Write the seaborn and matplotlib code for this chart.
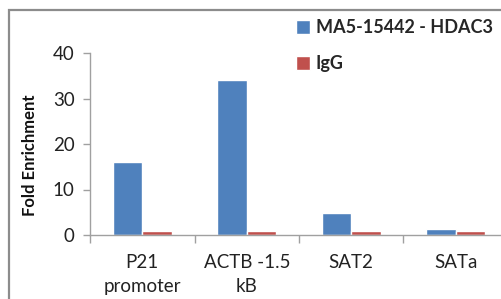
import matplotlib
matplotlib.use("Agg")
import matplotlib.pyplot as plt
import seaborn as sns
import pandas as pd
from matplotlib.patches import Rectangle

categories = ["P21\npromoter", "ACTB -1.5\nkB", "SAT2", "SATa"]
series_names = ["MA5-15442 - HDAC3", "IgG"]
hdac3_values = [16.1, 34.1, 4.8, 1.25]
igg_values = [0.9, 0.9, 0.9, 0.9]
y_ticks = [0, 10, 20, 30, 40]

df = pd.DataFrame({
    "Region": categories * 2,
    "Series": [series_names[0]] * 4 + [series_names[1]] * 4,
    "Fold Enrichment": hdac3_values + igg_values,
})

sns.set_theme(style="white")
plt.rcParams["font.family"] = ["Lato", "DejaVu Sans"]

W, H = 502, 299
fig = plt.figure(figsize=(W / 100, H / 100), dpi=100)
fig.patch.set_facecolor("white")

# outer chart-area frame (cropped on right and bottom)
fig.add_artist(Rectangle((9 / W, -0.1), 1.2, (H - 10) / H + 0.1,
                         transform=fig.transFigure, fill=False,
                         edgecolor="#8c8c8c", linewidth=1.6))

ax = fig.add_axes([90 / W, 64 / H, 418 / W, 182 / H])
sns.barplot(data=df, x="Region", y="Fold Enrichment", hue="Series",
            palette=["#4F81BD", "#C0504D"], width=0.565, gap=0,
            saturation=1, ax=ax, legend=True)

ax.set_xlim(-0.5, 3.5)
ax.set_ylim(0, 40)
ax.set_yticks(y_ticks)
ax.set_yticklabels([str(t) for t in y_ticks], fontsize=13.5, color="#222222")

# category boundary ticks (major) and centered labels (minor)
ax.set_xticks([-0.5, 0.5, 1.5, 2.5, 3.5])
ax.set_xticklabels([])
ax.set_xticks(range(len(categories)), minor=True)
ax.set_xticklabels(categories, minor=True, fontsize=13.5, color="#222222",
                   linespacing=1.45)
ax.tick_params(axis="x", which="major", length=6, width=1, color="#a0a0a0",
               direction="out", bottom=True)
ax.tick_params(axis="x", which="minor", length=0, pad=14)
ax.tick_params(axis="y", length=5, width=1, color="#a0a0a0", direction="out",
               left=True, pad=6)

for s in ["top", "right"]:
    ax.spines[s].set_visible(False)
for s in ["left", "bottom"]:
    ax.spines[s].set_color("#a0a0a0")
    ax.spines[s].set_linewidth(1)

ax.set_xlabel("")
ax.set_ylabel("Fold Enrichment", fontsize=12, fontweight="bold",
              color="#111111")
ax.yaxis.set_label_coords(38 / W, 144 / H, transform=fig.transFigure)

handles, labels = ax.get_legend_handles_labels()
ax.legend(handles, labels, loc="upper left",
          bbox_to_anchor=(296 / W, 1 - 19 / H), bbox_transform=fig.transFigure,
          frameon=False, borderpad=0, borderaxespad=0,
          prop={"size": 13, "weight": "bold"},
          handlelength=0.8, handleheight=0.8, handletextpad=0.3,
          labelspacing=1.05)

fig.savefig("out.png", dpi=100)
